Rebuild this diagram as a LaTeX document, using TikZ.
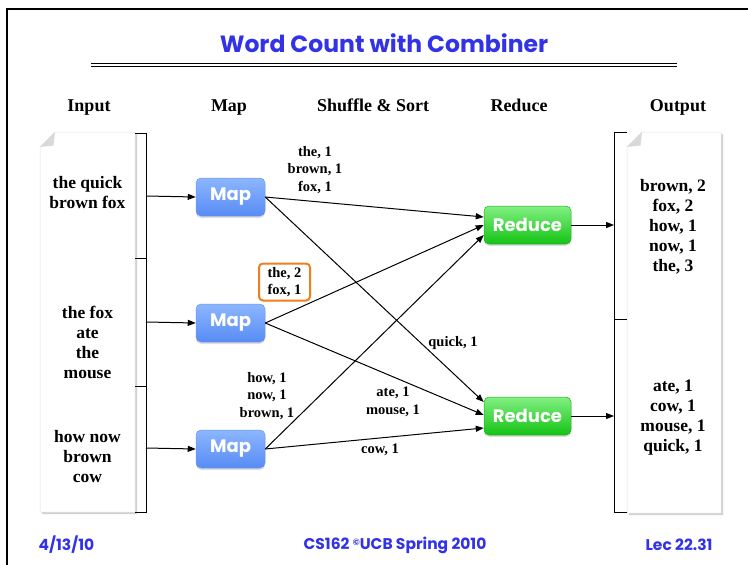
\documentclass[tikz,border=0pt]{standalone}
\usepackage{fontspec}
\setmainfont{Liberation Serif}
\newfontfamily\comicfont{Poppins}
\usetikzlibrary{arrows.meta,shadows}

\definecolor{slideblue}{RGB}{50,50,230}
\definecolor{mapTop}{RGB}{140,182,255}
\definecolor{mapBot}{RGB}{88,140,245}
\definecolor{mapEdge}{RGB}{110,150,235}
\definecolor{redTop}{RGB}{130,240,130}
\definecolor{redBot}{RGB}{20,195,20}
\definecolor{redEdge}{RGB}{40,170,40}
\definecolor{combOrange}{RGB}{240,125,30}

\begin{document}
\begin{tikzpicture}[x=1pt,y=-1pt,
  headtext/.style={font=\bfseries\fontsize{18}{20}\selectfont, anchor=base},
  pagetext/.style={font=\bfseries\fontsize{17.5}{20}\selectfont, align=center},
  kvlabel/.style={font=\bfseries\fontsize{14.5}{17.5}\selectfont, align=center, inner sep=1pt},
  mapbox/.style={rounded corners=5pt, minimum width=69pt, minimum height=38pt,
    top color=mapTop, bottom color=mapBot, draw=mapEdge, line width=0.5pt,
    text=white, font=\comicfont\bfseries\fontsize{18}{18}\selectfont,
    drop shadow={shadow xshift=0pt, shadow yshift=-2pt, opacity=0.25}},
  reducebox/.style={mapbox, minimum width=87pt, top color=redTop, bottom color=redBot, draw=redEdge},
  flow/.style={-{Triangle[length=8pt,width=6pt]}, line width=1pt},
  bracket/.style={line width=0.9pt},
  paper/.style={fill=white, draw=black!12, line width=0.5pt},
  footer/.style={text=slideblue, font=\comicfont\bfseries\fontsize{15.5}{15.5}\selectfont}
]
\useasboundingbox (0,0) rectangle (748,565);
\fill[white] (0,0) rectangle (748,565);

% slide frame
\draw[line width=2.5pt] (7,566) -- (7,9) -- (749,9);

% title and rule
\node[text=slideblue, font=\comicfont\bfseries\fontsize{23.5}{23.5}\selectfont] (title) at (384,43) {Word Count with Combiner};
\draw[line width=0.9pt] (91,63) -- (677,63);
\draw[line width=0.9pt] (91,66.5) -- (677,66.5);

% column headings
\node[headtext] (hin)  at (89,111)  {Input};
\node[headtext] (hmap) at (229,111) {Map};
\node[headtext] (hss)  at (373,111) {Shuffle \& Sort};
\node[headtext] (hred) at (519,111) {Reduce};
\node[headtext] (hout) at (678,111) {Output};

% input page
\fill[black!18] (57,134) -- (137,134) -- (137,514) -- (42,514) -- (42,149) -- cycle;
\path[paper] (55,132) -- (135,132) -- (135,512) -- (40,512) -- (40,147) -- cycle;
\fill[black!15] (40,147) -- (55,132) -- (53.5,145.5) -- cycle;
\node[pagetext] (in1) at (87.5,193) {the quick\\brown fox};
\node[pagetext] (in2) at (87.5,342) {the fox\\ate\\the\\mouse};
\node[pagetext] (in3) at (87.5,457) {how now\\brown\\cow};

% input split bracket
\draw[bracket] (135,133) -- (146,133) -- (146,512) -- (135,512);
\draw[bracket] (135,258) -- (146,258);
\draw[bracket] (135,386) -- (146,386);
\coordinate (s1) at (146,196);
\coordinate (s2) at (146,322);
\coordinate (s3) at (146,448);

% output page
\fill[black!18] (644,134) -- (723,134) -- (723,515) -- (629,515) -- (629,149) -- cycle;
\path[paper] (642,132) -- (721,132) -- (721,513) -- (627,513) -- (627,147) -- cycle;
\fill[black!15] (627,147) -- (642,132) -- (640.5,145.5) -- cycle;
\node[pagetext] (out1) at (673,227) {brown, 2\\fox, 2\\how, 1\\now, 1\\the, 3};
\node[pagetext] (out2) at (673,418) {ate, 1\\cow, 1\\mouse, 1\\quick, 1};

% output bracket
\draw[bracket] (627,132) -- (614,132) -- (614,512) -- (627,512);
\draw[bracket] (614,319) -- (627,319);
\coordinate (o1) at (614,225);
\coordinate (o2) at (614,416);

% map and reduce tasks
\node[mapbox] (m1) at (230.5,197) {Map};
\node[mapbox] (m2) at (230.5,323) {Map};
\node[mapbox] (m3) at (230.5,449) {Map};
\node[reducebox] (r1) at (527.5,225) {Reduce};
\node[reducebox] (r2) at (527.5,416) {Reduce};

% splits feed the mappers
\draw[flow] (s1) -- (m1.west);
\draw[flow] (s2) -- (m2.west);
\draw[flow] (s3) -- (m3.west);

% shuffle
\draw[flow] (m1.east) -- ([yshift=8pt]r1.west);
\draw[flow] (m1.east) -- ([yshift=14pt]r2.west);
\draw[flow] (m2.east) -- ([yshift=0pt]r1.west);
\draw[flow] (m2.east) -- ([yshift=1pt]r2.west);
\draw[flow] (m3.east) -- ([yshift=-10pt]r1.west);
\draw[flow] (m3.east) -- ([yshift=-12pt]r2.west);

% reducers write the output
\draw[flow] (r1.east) -- (o1);
\draw[flow] (r2.east) -- (o2);

% intermediate key/value pairs
\node[kvlabel] (kv1) at (315,170) {the, 1\\brown, 1\\fox, 1};
\node[kvlabel, draw=combOrange, line width=2pt, rounded corners=4pt,
      minimum width=51pt, minimum height=37pt] (kv2) at (284.5,282) {the, 2\\fox, 1};
\node[kvlabel] (kv3) at (453,343) {quick, 1};
\node[kvlabel] (kv4) at (267,396) {how, 1\\now, 1\\brown, 1};
\node[kvlabel] (kv5) at (393,402) {ate, 1\\mouse, 1};
\node[kvlabel] (kv6) at (380,450) {cow, 1};

% footer
\node[footer, anchor=west] (date) at (35,545) {4/13/10};
\node[footer] (course) at (395,545) {CS162 \raisebox{0.45ex}{\fontsize{9}{9}\selectfont ©}UCB Spring 2010};
\node[footer, anchor=east] (lec) at (716,545) {Lec 22.31};
\end{tikzpicture}
\end{document}
